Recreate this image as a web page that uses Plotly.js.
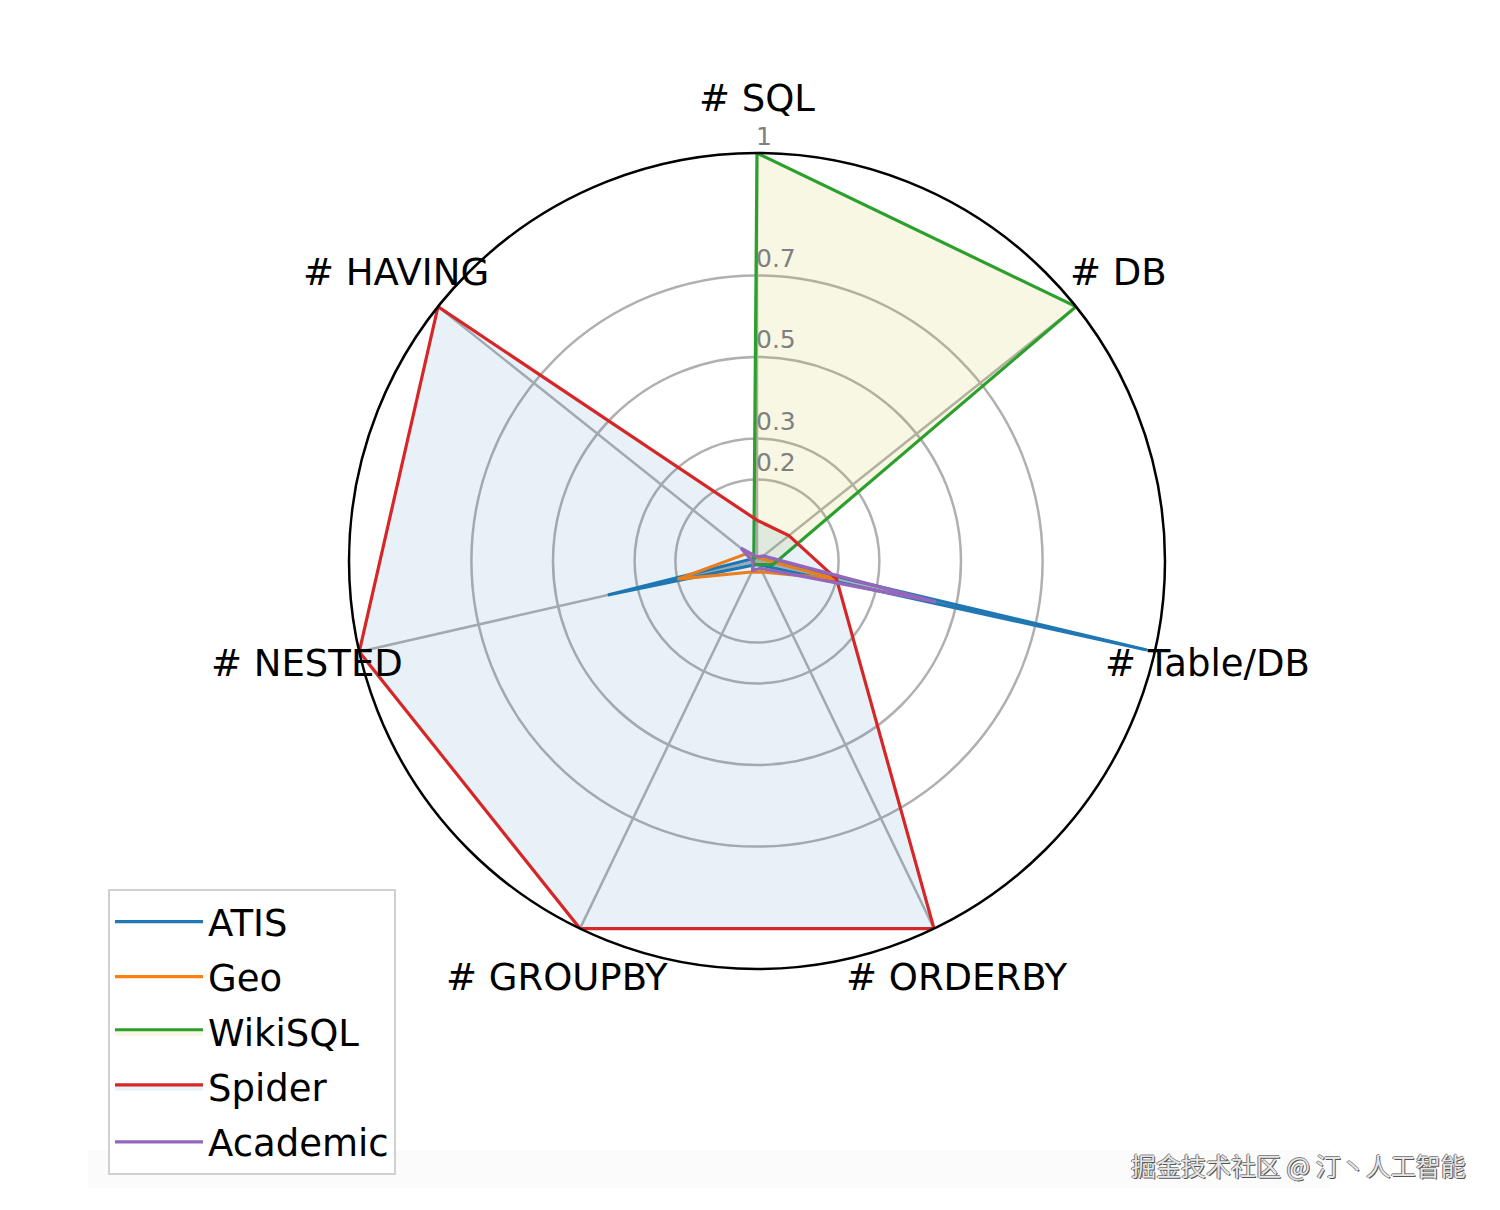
<!DOCTYPE html>
<html>
<head>
<meta charset="utf-8">
<script src="https://cdn.plot.ly/plotly-3.0.1.min.js"></script>
<style>html,body{margin:0;padding:0;background:#fff;}#chart{width:1500px;height:1210px;}</style>
</head>
<body>
<div id="chart"></div>
<script>
const categories = ['# SQL', '# DB', '# Table/DB', '# ORDERBY', '# GROUPBY', '# NESTED', '# HAVING'];
const seriesNames = ['ATIS', 'Geo', 'WikiSQL', 'Spider', 'Academic'];
const atis     = [0.01, 0.01, 0.98, 0.01, 0.01, 0.375, 0.01];
const geo      = [0.01, 0.01, 0.20, 0.03, 0.03, 0.20, 0.03];
const wikisql  = [1.00, 1.00, 0.04, 0.01, 0.01, 0.01, 0.01];
const spider   = [0.10, 0.10, 0.20, 1.00, 1.00, 1.00, 1.00];
const academic = [0.01, 0.02, 0.45, 0.02, 0.025, 0.01, 0.05];
const radialTicks = [0.2, 0.3, 0.5, 0.7, 1];
const radialTickText = ['0.2', '0.3', '0.5', '0.7', '1'];
const watermark = '掘金技术社区 @ 汀丶人工智能';

const seriesValues = [atis, geo, wikisql, spider, academic];
const lineColors = ['#1f77b4', '#ff7f0e', '#2ca02c', '#d62728', '#9467bd'];
const fillColors = [null, null, 'rgba(188,189,34,0.12)', 'rgba(31,119,180,0.10)', null];

const W = 1500, H = 1210;
const cx = 757, cy = 561, R = 408;

const traces = seriesNames.map((name, i) => {
  const vals = seriesValues[i];
  const t = {
    type: 'scatterpolar',
    mode: 'lines',
    name: name,
    legendgroup: 'g' + i,
    r: vals.concat([vals[0]]),
    theta: categories.concat([categories[0]]),
    line: {color: lineColors[i], width: 3.2},
    hoverinfo: 'name+r+theta'
  };
  if (fillColors[i]) { t.fill = 'toself'; t.fillcolor = fillColors[i]; }
  else { t.fill = 'none'; }
  return t;
});

// category labels placed at a fixed radius around the circle, centered (matplotlib style)
const labelR = 462;
const annotations = categories.map((c, k) => {
  const ang = (90 - k * 360 / categories.length) * Math.PI / 180;
  const px = cx + labelR * Math.cos(ang);
  const py = cy - labelR * Math.sin(ang);
  return {
    text: c, xref: 'paper', yref: 'paper',
    x: px / W, y: 1 - py / H, xanchor: 'center', yanchor: 'middle',
    showarrow: false,
    font: {family: 'DejaVu Sans', size: 37, color: '#000'}
  };
});
// radial tick labels, beside the vertical (# SQL) spoke, just above each ring
radialTicks.forEach((v, k) => {
  annotations.push({
    text: radialTickText[k], xref: 'paper', yref: 'paper',
    x: (cx - 3) / W, y: 1 - (cy - R * v - 17) / H, xanchor: 'left', yanchor: 'middle',
    showarrow: false,
    font: {family: 'DejaVu Sans', size: 25, color: '#808080'}
  });
});
annotations.push({
  text: watermark, xref: 'paper', yref: 'paper',
  x: 1468 / W, y: 1 - 1165 / H, xanchor: 'right', yanchor: 'middle',
  showarrow: false,
  font: {family: 'Noto Sans CJK SC', size: 25, color: '#e6e6e6',
         shadow: '1px 1px 0px #555, -1px 0px 0px #777, 0px -1px 0px #888'}
});

const layout = {
  width: W, height: H,
  margin: {l: 0, r: 0, t: 0, b: 0},
  paper_bgcolor: '#fff',
  showlegend: true,
  polar: {
    domain: {x: [(cx - R) / W, (cx + R) / W], y: [1 - (cy + R) / H, 1 - (cy - R) / H]},
    bgcolor: '#fff',
    angularaxis: {
      rotation: 90, direction: 'clockwise',
      showgrid: true, gridcolor: '#b0b0b0', gridwidth: 2.5,
      showline: true, linecolor: '#000', linewidth: 2.5,
      ticks: '', showticklabels: false
    },
    radialaxis: {
      range: [0, 1], angle: 90,
      tickvals: radialTicks, ticktext: radialTickText,
      showline: false, ticks: '', showticklabels: false,
      gridcolor: '#b0b0b0', gridwidth: 2.5
    }
  },
  legend: {
    x: 108 / W, y: 1 - 889 / H, xanchor: 'left', yanchor: 'top',
    bgcolor: '#fff', bordercolor: '#d0d0d0', borderwidth: 2,
    itemwidth: 88, tracegroupgap: 4,
    font: {family: 'DejaVu Sans', size: 37, color: '#000'}
  },
  shapes: [{
    type: 'rect', xref: 'paper', yref: 'paper', layer: 'below',
    x0: 88 / W, x1: 1330 / W, y0: 1 - 1188 / H, y1: 1 - 1150 / H,
    line: {width: 0}, fillcolor: 'rgba(0,0,0,0.015)'
  }],
  annotations: annotations
};

Plotly.newPlot('chart', traces, layout, {displayModeBar: false, staticPlot: true});
</script>
</body>
</html>
